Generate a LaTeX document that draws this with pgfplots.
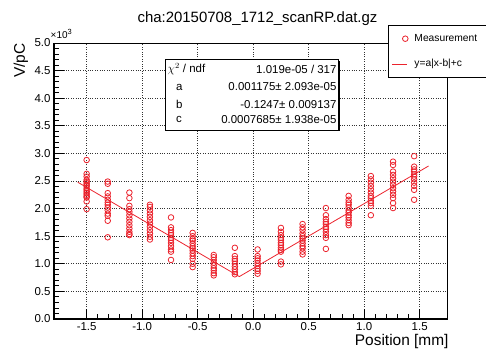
\documentclass[border=0pt]{standalone}
\usepackage{pgfplots}
\pgfplotsset{compat=1.18}
\usepackage{fontspec}
\setmainfont{Liberation Sans}
\definecolor{mred}{RGB}{235,35,45}
\pgfplotstableread{
x y
-1.5 2.88
-1.5 2.63
-1.5 2.58
-1.5 2.52
-1.5 2.49
-1.5 2.46
-1.5 2.43
-1.5 2.41
-1.5 2.37
-1.5 2.34
-1.5 2.31
-1.5 2.28
-1.5 2.25
-1.5 2.22
-1.5 2.20
-1.5 2.13
-1.5 1.99
-1.31 2.49
-1.31 2.45
-1.31 2.28
-1.31 2.22
-1.31 2.16
-1.31 2.11
-1.31 2.07
-1.31 2.02
-1.31 1.97
-1.31 1.91
-1.31 1.87
-1.31 1.78
-1.31 1.48
-1.115 2.29
-1.115 2.19
-1.115 2.05
-1.115 1.99
-1.115 1.94
-1.115 1.88
-1.115 1.82
-1.115 1.76
-1.115 1.70
-1.115 1.64
-1.115 1.58
-1.115 1.54
-1.115 1.52
-0.93 2.07
-0.93 2.03
-0.93 1.97
-0.93 1.91
-0.93 1.85
-0.93 1.79
-0.93 1.73
-0.93 1.67
-0.93 1.61
-0.93 1.55
-0.93 1.49
-0.93 1.44
-0.74 1.84
-0.74 1.66
-0.74 1.61
-0.74 1.56
-0.74 1.52
-0.74 1.47
-0.74 1.43
-0.74 1.38
-0.74 1.32
-0.74 1.26
-0.74 1.22
-0.74 1.07
-0.545 1.56
-0.545 1.50
-0.545 1.45
-0.545 1.42
-0.545 1.37
-0.545 1.32
-0.545 1.28
-0.545 1.24
-0.545 1.19
-0.545 1.14
-0.545 1.09
-0.545 1.00
-0.545 0.94
-0.355 1.16
-0.355 1.12
-0.355 1.07
-0.355 1.02
-0.355 0.97
-0.355 0.92
-0.355 0.88
-0.355 0.83
-0.355 0.79
-0.165 1.29
-0.165 1.14
-0.165 1.09
-0.165 1.05
-0.165 1.00
-0.165 0.95
-0.165 0.90
-0.165 0.85
-0.165 0.81
0.04 1.26
0.04 1.14
0.04 1.10
0.04 1.06
0.04 1.01
0.04 0.96
0.04 0.91
0.04 0.87
0.04 0.82
0.25 1.65
0.25 1.58
0.25 1.52
0.25 1.47
0.25 1.43
0.25 1.38
0.25 1.34
0.25 1.29
0.25 1.25
0.25 1.22
0.25 1.04
0.25 0.99
0.445 1.72
0.445 1.66
0.445 1.61
0.445 1.55
0.445 1.50
0.445 1.46
0.445 1.42
0.445 1.37
0.445 1.32
0.445 1.28
0.445 1.22
0.445 1.17
0.655 2.01
0.655 1.88
0.655 1.81
0.655 1.76
0.655 1.72
0.655 1.67
0.655 1.63
0.655 1.58
0.655 1.52
0.655 1.47
0.655 1.27
0.86 2.23
0.86 2.16
0.86 2.11
0.86 2.07
0.86 2.02
0.86 1.97
0.86 1.93
0.86 1.88
0.86 1.84
0.86 1.79
0.86 1.74
0.86 1.70
1.06 2.59
1.06 2.53
1.06 2.47
1.06 2.41
1.06 2.35
1.06 2.29
1.06 2.23
1.06 2.19
1.06 2.14
1.06 2.10
1.06 2.05
1.06 1.88
1.26 2.85
1.26 2.79
1.26 2.67
1.26 2.61
1.26 2.55
1.26 2.49
1.26 2.43
1.26 2.37
1.26 2.31
1.26 2.25
1.26 2.19
1.26 2.10
1.26 2.01
1.45 2.95
1.45 2.76
1.45 2.71
1.45 2.67
1.45 2.62
1.45 2.58
1.45 2.53
1.45 2.47
1.45 2.41
1.45 2.34
1.45 2.16
}\meas
\pgfplotstableread{
x y
-1.58 2.478
-0.1247 0.7685
1.58 2.772
}\fit
\begin{document}
\begin{tikzpicture}
\useasboundingbox (0bp,0bp) rectangle (486bp,351bp);
\begin{axis}[
  at={(54bp,32bp)}, anchor=south west,
  width=393bp, height=276bp, scale only axis,
  xmin=-1.794, xmax=1.746, ymin=0, ymax=5,
  xtick={-1.5,-1,-0.5,0,0.5,1,1.5},
  xticklabels={-1.5,-1.0,-0.5,0.0,0.5,1.0,1.5},
  ytick={0,0.5,1,1.5,2,2.5,3,3.5,4,4.5,5},
  yticklabels={0.0,0.5,1.0,1.5,2.0,2.5,3.0,3.5,4.0,4.5,5.0},
  minor x tick num=4, minor y tick num=4,
  tick pos=left, tick align=inside,
  major tick length=10bp, minor tick length=5bp,
  tick style={black, line width=0.9bp},
  grid=major,
  major grid style={black!80, line width=0.7bp, dash pattern=on 0.9bp off 1.5bp},
  axis line style={line width=1bp},
  ticklabel style={font=\fontsize{11.5}{13}\selectfont},
  clip=false,
  legend style={name=leg, at={(axis description cs:0.8506,1.0652)}, anchor=north west,
    draw=black, line width=0.8bp, fill=white,
    font=\fontsize{10.3}{12}\selectfont,
    inner xsep=3.4bp, inner ysep=8.3bp,
    row sep=15bp, column sep=6bp,
    nodes={inner sep=0pt, text height=7.5bp, text depth=2.5bp}},
  legend cell align=left,
]
\addplot[only marks, mark=o, mark size=2.8bp, mark options={mred, line width=0.8bp},
  legend image code/.code={\path[draw=none, fill=none] (0bp,0bp) -- (15bp,0bp); \node[draw=mred, fill=none, circle, inner sep=0pt, minimum size=5.6bp, line width=0.8bp, text height=0pt, text depth=0pt] at (10bp,0bp) {};}]
  table[x=x,y=y] {\meas};
\addlegendentry{Measurement\hspace*{8.5bp}}
\addplot[mred, line width=0.8bp, no marks,
  legend image code/.code={\path[draw=none, fill=none] (0bp,0bp) -- (15bp,0bp);}]
  table[x=x,y=y] {\fit};
\addlegendentry{y=a|x-b|+c}
\draw[line width=2bp] (rel axis cs:0,1) -- (rel axis cs:0,0) -- (rel axis cs:1,0);
\end{axis}
\draw[mred, line width=0.9bp] ([xshift=4bp, yshift=13.4bp]leg.south west) -- ++(15bp,0bp);
% title and axis titles
\node[font=\fontsize{15}{18}\selectfont] at (257.5bp,332.7bp) {cha:20150708\_1712\_scanRP.dat.gz};
\node[font=\fontsize{15.5}{18}\selectfont, rotate=90, anchor=east] at (21bp,311bp) {V/pC};
\node[font=\fontsize{15.5}{18}\selectfont, anchor=east] at (452bp,9bp) {Position [mm]};
\node[font=\fontsize{10}{12}\selectfont, anchor=west, inner sep=0pt] at (50.5bp,317bp) {×10\raisebox{0.45em}{\fontsize{7.5}{9}\selectfont 3}};
% stats box
\fill[black] (166.8bp,219.5bp) rectangle (340bp,290.3bp);
\draw[fill=white, line width=0.8bp] (165bp,221bp) rectangle (338.3bp,292bp);
\begin{scope}[every node/.style={font=\fontsize{11.5}{13}\selectfont, inner sep=0pt}]
\node[anchor=west] at (167.5bp,282bp) {$\chi^{2}$ / ndf};
\node[anchor=east] at (336.7bp,282bp) {1.019e-05 / 317};
\node[anchor=west] at (176bp,264bp) {a};
\node[anchor=east] at (336.7bp,264bp) {0.001175± 2.093e-05};
\node[anchor=west] at (176bp,246.5bp) {b};
\node[anchor=east] at (336.7bp,246.5bp) {-0.1247± 0.009137};
\node[anchor=west] at (176bp,231.5bp) {c};
\node[anchor=east] at (336.7bp,231.5bp) {0.0007685± 1.938e-05};
\end{scope}
\end{tikzpicture}
\end{document}
